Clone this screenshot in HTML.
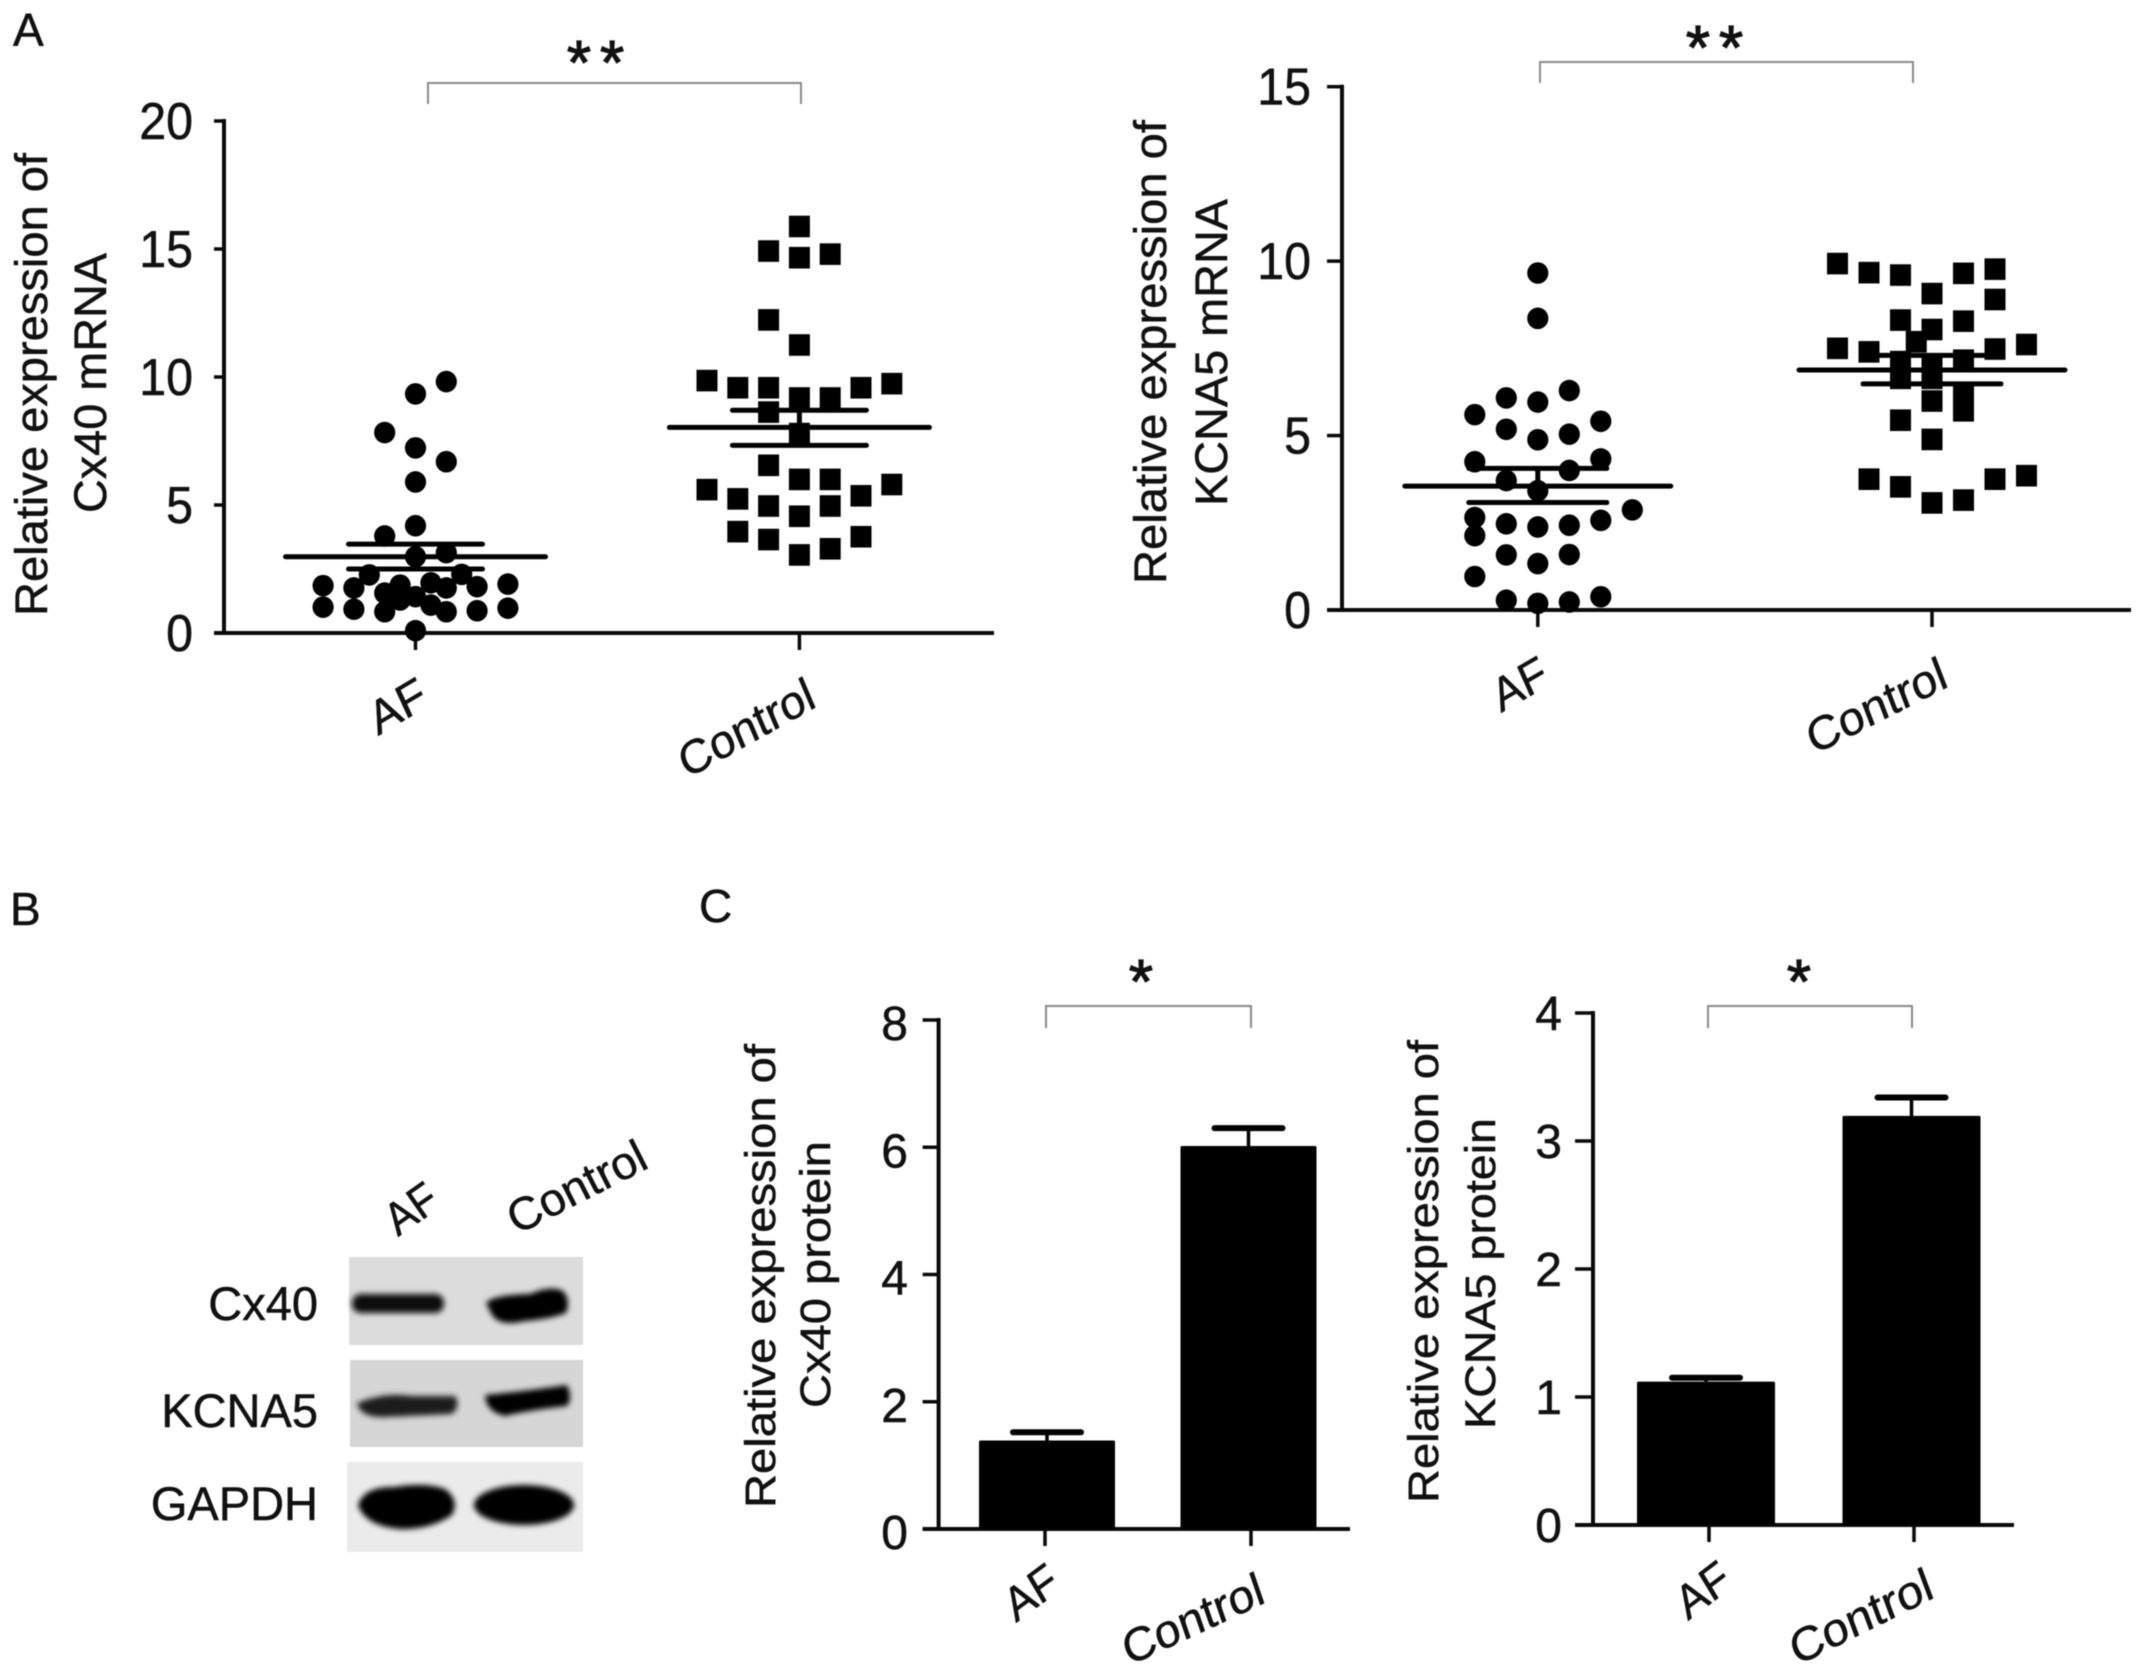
<!DOCTYPE html>
<html lang="en">
<head>
<meta charset="utf-8">
<title>Cx40 and KCNA5 expression in AF and Control</title>
<style>
html,body{margin:0;padding:0;background:#fff;width:2150px;height:1676px;overflow:hidden}
svg{display:block;filter:blur(.5px)}
text{font-family:"Liberation Sans",sans-serif;fill:#111;stroke:#111;stroke-width:.5px}
</style>
</head>
<body>
<svg id="figure" xmlns="http://www.w3.org/2000/svg" width="2150" height="1676" viewBox="0 0 2150 1676">
  <defs>
    <filter id="bandBlur" x="-20%" y="-60%" width="140%" height="220%"><feGaussianBlur stdDeviation="3"/></filter>
  </defs>
  <rect width="2150" height="1676" fill="#fff"/>
  <text x="13" y="46" font-size="46">A</text>
  <text x="10" y="925" font-size="46">B</text>
  <text x="699" y="922" font-size="46">C</text>

  <g>
    <rect x="349" y="1257" width="234" height="88" fill="#dcdcdc"/>
    <rect x="350" y="1360" width="233" height="87" fill="#d6d6d6"/>
    <rect x="347" y="1462" width="236" height="90" fill="#ebebeb"/>
    <g filter="url(#bandBlur)">
      <rect x="352" y="1294" width="92" height="19" rx="9" fill="#0c0c0c"/>
      <path d="M486 1303 Q492 1295 530 1294 Q550 1285 563 1291 Q571 1300 566 1313 Q550 1319 525 1321 Q500 1327 492 1315 Z" fill="#000"/>
      <path d="M357 1403 Q385 1392 410 1396 L455 1396 Q461 1406 452 1414 L385 1417 Q360 1418 357 1403Z" fill="#1c1c1c"/>
      <path d="M485 1395 Q520 1392 567 1385 Q573 1398 567 1406 Q530 1410 505 1416 Q486 1412 485 1395Z" fill="#060606"/>
      <path d="M358 1505 Q364 1486 395 1487 Q425 1482 445 1489 Q460 1500 452 1515 Q430 1530 400 1529 Q365 1526 358 1505Z" fill="#060606"/>
      <ellipse cx="524" cy="1505" rx="50" ry="20" fill="#000"/>
    </g>
    <text x="318" y="1320" text-anchor="end" font-size="47">Cx40</text>
    <text x="318" y="1427" text-anchor="end" font-size="47">KCNA5</text>
    <text x="318" y="1520" text-anchor="end" font-size="47">GAPDH</text>
    <text transform="translate(398,1237) rotate(-35)" font-size="46" textLength="54" lengthAdjust="spacingAndGlyphs">AF</text>
    <text transform="translate(517,1235) rotate(-27)" font-size="46" textLength="150" lengthAdjust="spacingAndGlyphs">Control</text>
  </g>
</svg>

<script>
// Shared categories
const categories = ['AF', 'Control'];

// Chart A, Cx40 mRNA
const cx40MrnaTicks = [0, 5, 10, 15, 20];
const cx40MrnaAf = [9.82, 9.34, 7.83, 7.23, 6.69, 5.9, 4.19, 3.79, 2.98, 3.14, 2.27, 2.29, 1.85, 1.76, 1.56, 1.87, 1.96, 1.76, 1.81, 1.91, 1.01, 0.93, 0.83, 1.29, 1.42, 1.09, 0.83, 0.87, 0.97, 0.09];
const cx40MrnaAfColumns = [1, 0, -1, 0, 1, 0, 0, -1, 0, 1, -1.5, 1.5, -3, -2, -1, -0.5, 0.5, 1, 2, 3, -3, -2, -1, -0.5, 0, 0.5, 1, 2, 3, 0];
const cx40MrnaControl = [15.88, 14.92, 14.66, 14.8, 12.23, 11.25, 9.86, 9.58, 9.58, 9.18, 9.18, 9.58, 9.74, 8.63, 7.79, 6.55, 6.0, 6.0, 5.6, 5.24, 5.36, 5.8, 4.96, 4.96, 4.56, 3.96, 3.65, 3.76, 3.29, 3.05];
const cx40MrnaControlColumns = [0, -1, 0, 1, -1, 0, -3, -2, -1, 0, 1, 2, 3, -1, 0, -1, 0, 1, -3, -2, 2, 3, -1, 1, 0, -2, -1, 2, 1, 0];
const cx40MrnaMeans = [2.98, 8.03];
const cx40MrnaUpper = [3.47, 8.7];
const cx40MrnaLower = [2.5, 7.33];

// Chart A, KCNA5 mRNA
const kcna5MrnaTicks = [0, 5, 10, 15];
const kcna5MrnaAf = [9.66, 8.36, 6.29, 6.08, 5.96, 5.6, 5.41, 5.18, 5.04, 4.88, 4.25, 4.33, 4.0, 3.71, 3.42, 2.87, 2.65, 2.57, 2.47, 2.38, 2.43, 2.13, 1.58, 1.59, 1.33, 0.96, 0.38, 0.28, 0.23, 0.19];
const kcna5MrnaAfColumns = [0, 0, 1, -1, 0, -2, 2, -1, 1, 0, -2, 2, 1, -1, 0, 3, -2, 2, -1, 0, 1, -2, -1, 1, 0, -2, 2, -1, 1, 0];
const kcna5MrnaControl = [9.93, 9.67, 9.6, 9.65, 9.77, 9.07, 8.9, 8.31, 8.28, 8.04, 7.69, 7.5, 7.4, 7.48, 7.61, 7.12, 7.02, 7.16, 6.64, 6.64, 6.16, 5.99, 5.71, 5.44, 4.89, 3.75, 3.53, 3.75, 3.85, 3.07, 3.15];
const kcna5MrnaControlColumns = [-3, -2, -1, 1, 2, 0, 2, -1, 1, 0, -0.5, -3, -2, 2, 3, -1, 0, 1, -1, 0, 1, 0, 1, -1, 0, -2, -1, 2, 3, 0, 1];
const kcna5MrnaMeans = [3.55, 6.88];
const kcna5MrnaUpper = [4.06, 7.3];
const kcna5MrnaLower = [3.08, 6.48];

// Chart C, Cx40 protein
const cx40ProteinTicks = [0, 2, 4, 6, 8];
const cx40ProteinMeans = [1.39, 6.02];
const cx40ProteinUpper = [1.52, 6.3];

// Chart C, KCNA5 protein
const kcna5ProteinTicks = [0, 1, 2, 3, 4];
const kcna5ProteinMeans = [1.12, 3.196];
const kcna5ProteinUpper = [1.15, 3.34];

const svg = document.getElementById('figure');
const NS = 'http://www.w3.org/2000/svg';

function make(tag, attrs, parent) {
  const el = document.createElementNS(NS, tag);
  for (const key in attrs) el.setAttribute(key, attrs[key]);
  parent.appendChild(el);
  return el;
}
function linearScale(domainMax, pxZero, pxMax) {
  return v => pxZero + (v / domainMax) * (pxMax - pxZero);
}
function bandScale(pxFirst, pxSecond) {
  return i => pxFirst + i * (pxSecond - pxFirst);
}

function drawAxes(g, o) {
  const y = linearScale(o.ticks[o.ticks.length - 1], o.y0, o.yTop);
  const x = bandScale(o.x0, o.x1);
  const yAxis = make('line', {x1: o.axisX, x2: o.axisX, y1: o.yTop - 2, y2: o.y0 + 2, stroke: '#0a0a0a', 'stroke-width': 4}, g);
  
  
  const xAxis = make('line', {x1: o.axisX - o.tickLen, x2: o.xEnd, y1: o.y0, y2: o.y0, stroke: '#0a0a0a', 'stroke-width': 4}, g);
  
  
  o.ticks.forEach(t => {
    const tick = make('line', {x1: o.axisX - o.tickLen, x2: o.axisX, y1: y(t), y2: y(t), stroke: '#0a0a0a', 'stroke-width': 3.5}, g);
    
    
    const lab = make('text', {transform: 'translate(' + o.labelRight + ',' + (y(t) + o.labelDy) + ') scale(' + o.labelSx + ',1)', 'text-anchor': 'end', 'font-size': o.labelSize}, g);
    lab.textContent = String(t);
    
    
  });
  categories.forEach((c, i) => {
    const tick = make('line', {x1: x(i), x2: x(i), y1: o.y0, y2: o.y0 + 17, stroke: '#0a0a0a', 'stroke-width': 3.5}, g);
    
    
    const s = o.catPts[i];
    const dx = s[2] - s[0], dy = s[3] - s[1];
    const angle = Math.atan2(dy, dx) * 180 / Math.PI;
    const lab = make('text', {transform: 'translate(' + s[0] + ',' + s[1] + ') rotate(' + angle + ') skewX(-6)', 'font-size': 46, textLength: Math.hypot(dx, dy), lengthAdjust: 'spacingAndGlyphs'}, g);
    lab.textContent = c;
    
    
  });
  o.title.forEach(t => {
    const lab = make('text', {transform: 'translate(' + t.x + ',' + t.y + ') rotate(-90)', 'font-size': t.size, textLength: t.len, lengthAdjust: 'spacingAndGlyphs'}, g);
    lab.textContent = t.text;
    
    
  });
  const b = o.bracket;
  const bracket = make('path', {d: 'M' + b[0] + ' ' + b[3] + 'V' + b[2] + 'H' + b[1] + 'V' + b[3], fill: 'none', stroke: '#8a8a8a', 'stroke-width': 2}, g);
  
  
  const star = make('text', {x: o.star[0], y: o.star[1], 'text-anchor': 'middle', 'font-size': 62, 'letter-spacing': o.starGap, style: 'stroke-width:1.2px'}, g);
  star.textContent = o.star[2];
  
  
  return {x, y};
}

function drawDotChart(name, o, seriesValues, seriesColumns, means, upper, lower) {
  const g = make('g', {}, svg);
  
  
  const {x, y} = drawAxes(g, o);
  const swarmX = (i, col) => x(i) + col * o.columnStep;
  seriesValues.forEach((vals, i) => {
    vals.forEach((v, k) => {
      const cx = swarmX(i, seriesColumns[i][k]);
      if (i === 0) {
        const dot = make('ellipse', {cx: cx, cy: y(v), rx: 10.6, ry: 10.8, fill: '#000'}, g);
        
        
      } else {
        const sq = make('rect', {x: cx - 10.5, y: y(v) - 10.8, width: 21, height: 21.6, fill: '#000'}, g);
        
        
      }
    });
  });
  means.forEach((m, i) => {
    const mean = make('line', {x1: x(i) - o.meanHalf, x2: x(i) + o.meanHalf, y1: y(m), y2: y(m), stroke: '#000', 'stroke-width': 5, 'stroke-linecap': 'round'}, g);
    
    
    const stem = make('line', {x1: x(i), x2: x(i), y1: y(upper[i]), y2: y(lower[i]), stroke: '#000', 'stroke-width': 5}, g);
    
    
    const capU = make('line', {x1: x(i) - o.capHalf, x2: x(i) + o.capHalf, y1: y(upper[i]), y2: y(upper[i]), stroke: '#000', 'stroke-width': 5, 'stroke-linecap': 'round'}, g);
    
    
    const capL = make('line', {x1: x(i) - o.capHalf, x2: x(i) + o.capHalf, y1: y(lower[i]), y2: y(lower[i]), stroke: '#000', 'stroke-width': 5, 'stroke-linecap': 'round'}, g);
    
    
  });
}

function drawBarChart(name, o, means, upper) {
  const g = make('g', {}, svg);
  
  
  const {y} = drawAxes(g, o);
  const barX = bandScale(o.bar0, o.bar1);
  means.forEach((m, i) => {
    const stem = make('line', {x1: barX(i), x2: barX(i), y1: y(upper[i]), y2: y(m), stroke: '#000', 'stroke-width': 3.5}, g);
    
    
    const cap = make('line', {x1: barX(i) - o.capHalf, x2: barX(i) + o.capHalf, y1: y(upper[i]), y2: y(upper[i]), stroke: '#000', 'stroke-width': 6, 'stroke-linecap': 'round'}, g);
    
    
    const bar = make('rect', {x: barX(i) - o.barHalf, y: y(m), width: o.barHalf * 2, height: o.y0 - y(m), rx: 1.5, fill: '#000'}, g);
    
    
  });
}

drawDotChart('chart-cx40-mrna', {
  ticks: cx40MrnaTicks, y0: 633, yTop: 121, axisX: 224, tickLen: 10, xEnd: 994, x0: 415.5, x1: 799.4,
  columnStep: 30.8, meanHalf: 130, capHalf: 67,
  labelRight: 193, labelDy: 18, labelSx: 0.93, labelSize: 52,
  catPts: [[378, 736, 430, 705], [687, 779, 818, 706]],
  title: [{text: 'Relative expression of', x: 47, y: 616, len: 463, size: 45}, {text: 'Cx40 mRNA', x: 106, y: 513, len: 260, size: 45}],
  bracket: [428, 801, 83, 104], star: [600, 84, '**'], starGap: 9
}, [cx40MrnaAf, cx40MrnaControl], [cx40MrnaAfColumns, cx40MrnaControlColumns], cx40MrnaMeans, cx40MrnaUpper, cx40MrnaLower);

drawDotChart('chart-kcna5-mrna', {
  ticks: kcna5MrnaTicks, y0: 610, yTop: 86.7, axisX: 1342, tickLen: 15, xEnd: 2131, x0: 1537.8, x1: 1932,
  columnStep: 31.5, meanHalf: 133, capHalf: 69,
  labelRight: 1311, labelDy: 18, labelSx: 0.93, labelSize: 52,
  catPts: [[1501, 713, 1551, 684], [1814, 755, 1950, 686]],
  title: [{text: 'Relative expression of', x: 1166, y: 584, len: 464, size: 45}, {text: 'KCNA5 mRNA', x: 1227, y: 506, len: 307, size: 45}],
  bracket: [1540, 1913, 62, 83], star: [1719, 69, '**'], starGap: 9
}, [kcna5MrnaAf, kcna5MrnaControl], [kcna5MrnaAfColumns, kcna5MrnaControlColumns], kcna5MrnaMeans, kcna5MrnaUpper, kcna5MrnaLower);

drawBarChart('chart-cx40-protein', {
  ticks: cx40ProteinTicks, y0: 1529, yTop: 1020, axisX: 938.6, tickLen: 16, xEnd: 1350, x0: 1045, x1: 1251,
  bar0: 1047, bar1: 1248.5, barHalf: 68, capHalf: 34,
  labelRight: 908, labelDy: 20, labelSx: 1, labelSize: 48,
  catPts: [[1016, 1623, 1062, 1589], [1129, 1666, 1267, 1602]],
  title: [{text: 'Relative expression of', x: 775, y: 1508, len: 464, size: 43}, {text: 'Cx40 protein', x: 830, y: 1408, len: 267, size: 43}],
  bracket: [1046, 1251, 1006, 1028], star: [1141, 1003, '*'], starGap: 0
}, cx40ProteinMeans, cx40ProteinUpper);

drawBarChart('chart-kcna5-protein', {
  ticks: kcna5ProteinTicks, y0: 1525, yTop: 1013, axisX: 1593, tickLen: 18, xEnd: 2014, x0: 1709, x1: 1914,
  bar0: 1706, bar1: 1911.5, barHalf: 69, capHalf: 34,
  labelRight: 1562, labelDy: 17, labelSx: 1, labelSize: 48,
  catPts: [[1688, 1621, 1734, 1586], [1797, 1666, 1936, 1597]],
  title: [{text: 'Relative expression of', x: 1438, y: 1503, len: 463, size: 43}, {text: 'KCNA5 protein', x: 1495, y: 1429, len: 311, size: 43}],
  bracket: [1708, 1912, 1006, 1028], star: [1799, 1003, '*'], starGap: 0
}, kcna5ProteinMeans, kcna5ProteinUpper);
</script>
</body>
</html>
